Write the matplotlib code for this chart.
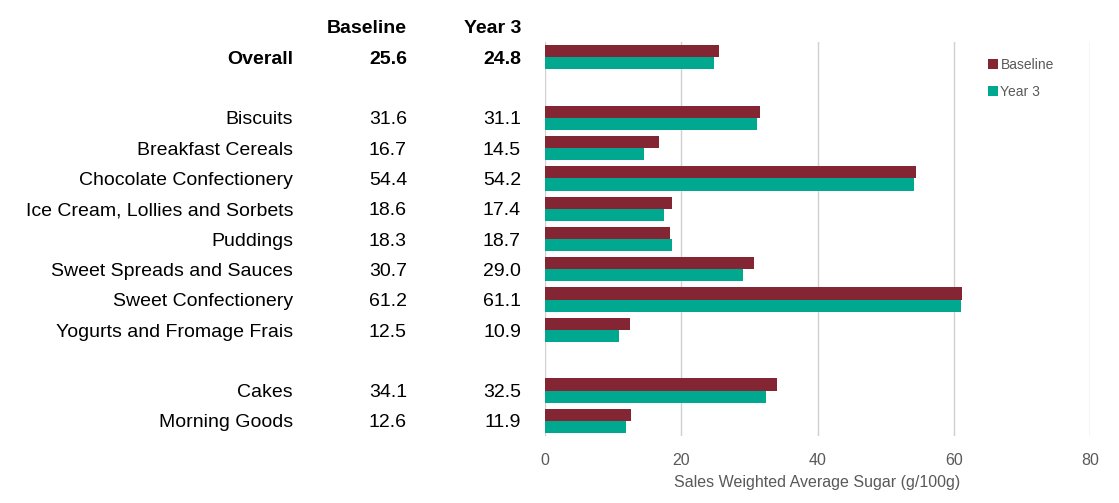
import matplotlib.pyplot as plt
import matplotlib.transforms as mtransforms
import numpy as np

plt.rcParams["font.family"] = ["Liberation Sans", "DejaVu Sans"]

categories = ["Overall", "Biscuits", "Breakfast Cereals", "Chocolate Confectionery",
              "Ice Cream, Lollies and Sorbets", "Puddings", "Sweet Spreads and Sauces",
              "Sweet Confectionery", "Yogurts and Fromage Frais", "Cakes", "Morning Goods"]
baseline = [25.6, 31.6, 16.7, 54.4, 18.6, 18.3, 30.7, 61.2, 12.5, 34.1, 12.6]
year3 = [24.8, 31.1, 14.5, 54.2, 17.4, 18.7, 29.0, 61.1, 10.9, 32.5, 11.9]
rows = [0, 2, 3, 4, 5, 6, 7, 8, 9, 11, 12]
x_ticks = [0, 20, 40, 60, 80]

MAROON = "#832532"
TEAL = "#00A88F"
GREY = "#595959"

fig = plt.figure(figsize=(11.19, 5.03), dpi=100)
ax = fig.add_axes([545 / 1119, 1 - 436 / 503, 545 / 1119, 394 / 503])

y = np.array(rows)
h = 0.4
ax.barh(y - h / 2, baseline, height=h, color=MAROON, label="Baseline", zorder=3)
ax.barh(y + h / 2, year3, height=h, color=TEAL, label="Year 3", zorder=3)

ax.set_xlim(0, 80)
ax.set_ylim(12.5, -0.5)
ax.set_xticks(x_ticks)
ax.set_yticks([])
ax.grid(axis="x", color="#D0D0D0", linewidth=1, zorder=0)
for s in ax.spines.values():
    s.set_visible(False)
ax.tick_params(axis="x", length=0, labelsize=11.5, labelcolor=GREY, pad=12)
ax.set_xlabel("Sales Weighted Average Sugar (g/100g)", fontsize=11.5, color=GREY, labelpad=5)

# table of values on the left (x in figure coords, y in data coords)
col_x = {"cat": 293 / 1119, "base": 407 / 1119, "y3": 521 / 1119}
blend = mtransforms.blended_transform_factory(fig.transFigure, ax.transData)
dy = 0.07

ax.text(col_x["base"], -1 + dy, "Baseline", transform=blend, ha="right", va="center",
        fontsize=14, fontweight="bold", clip_on=False)
ax.text(col_x["y3"], -1 + dy, "Year 3", transform=blend, ha="right", va="center",
        fontsize=14, fontweight="bold", clip_on=False)
for i, (cat, b, t, r) in enumerate(zip(categories, baseline, year3, rows)):
    weight = "bold" if i == 0 else "normal"
    ax.text(col_x["cat"], r + dy, cat, transform=blend, ha="right", va="center",
            fontsize=14, fontweight=weight, clip_on=False)
    ax.text(col_x["base"], r + dy, f"{b:.1f}", transform=blend, ha="right", va="center",
            fontsize=14, fontweight=weight, clip_on=False)
    ax.text(col_x["y3"], r + dy, f"{t:.1f}", transform=blend, ha="right", va="center",
            fontsize=14, fontweight=weight, clip_on=False)

leg = ax.legend(loc="upper left", bbox_to_anchor=(988 / 1119, 1 - 58 / 503),
                bbox_transform=fig.transFigure, frameon=False, fontsize=10,
                handlelength=0.7, handleheight=0.7, handletextpad=0.2,
                labelspacing=0.9, borderaxespad=0, borderpad=0)
for t in leg.get_texts():
    t.set_color(GREY)

fig.savefig("out.png", dpi=100)
